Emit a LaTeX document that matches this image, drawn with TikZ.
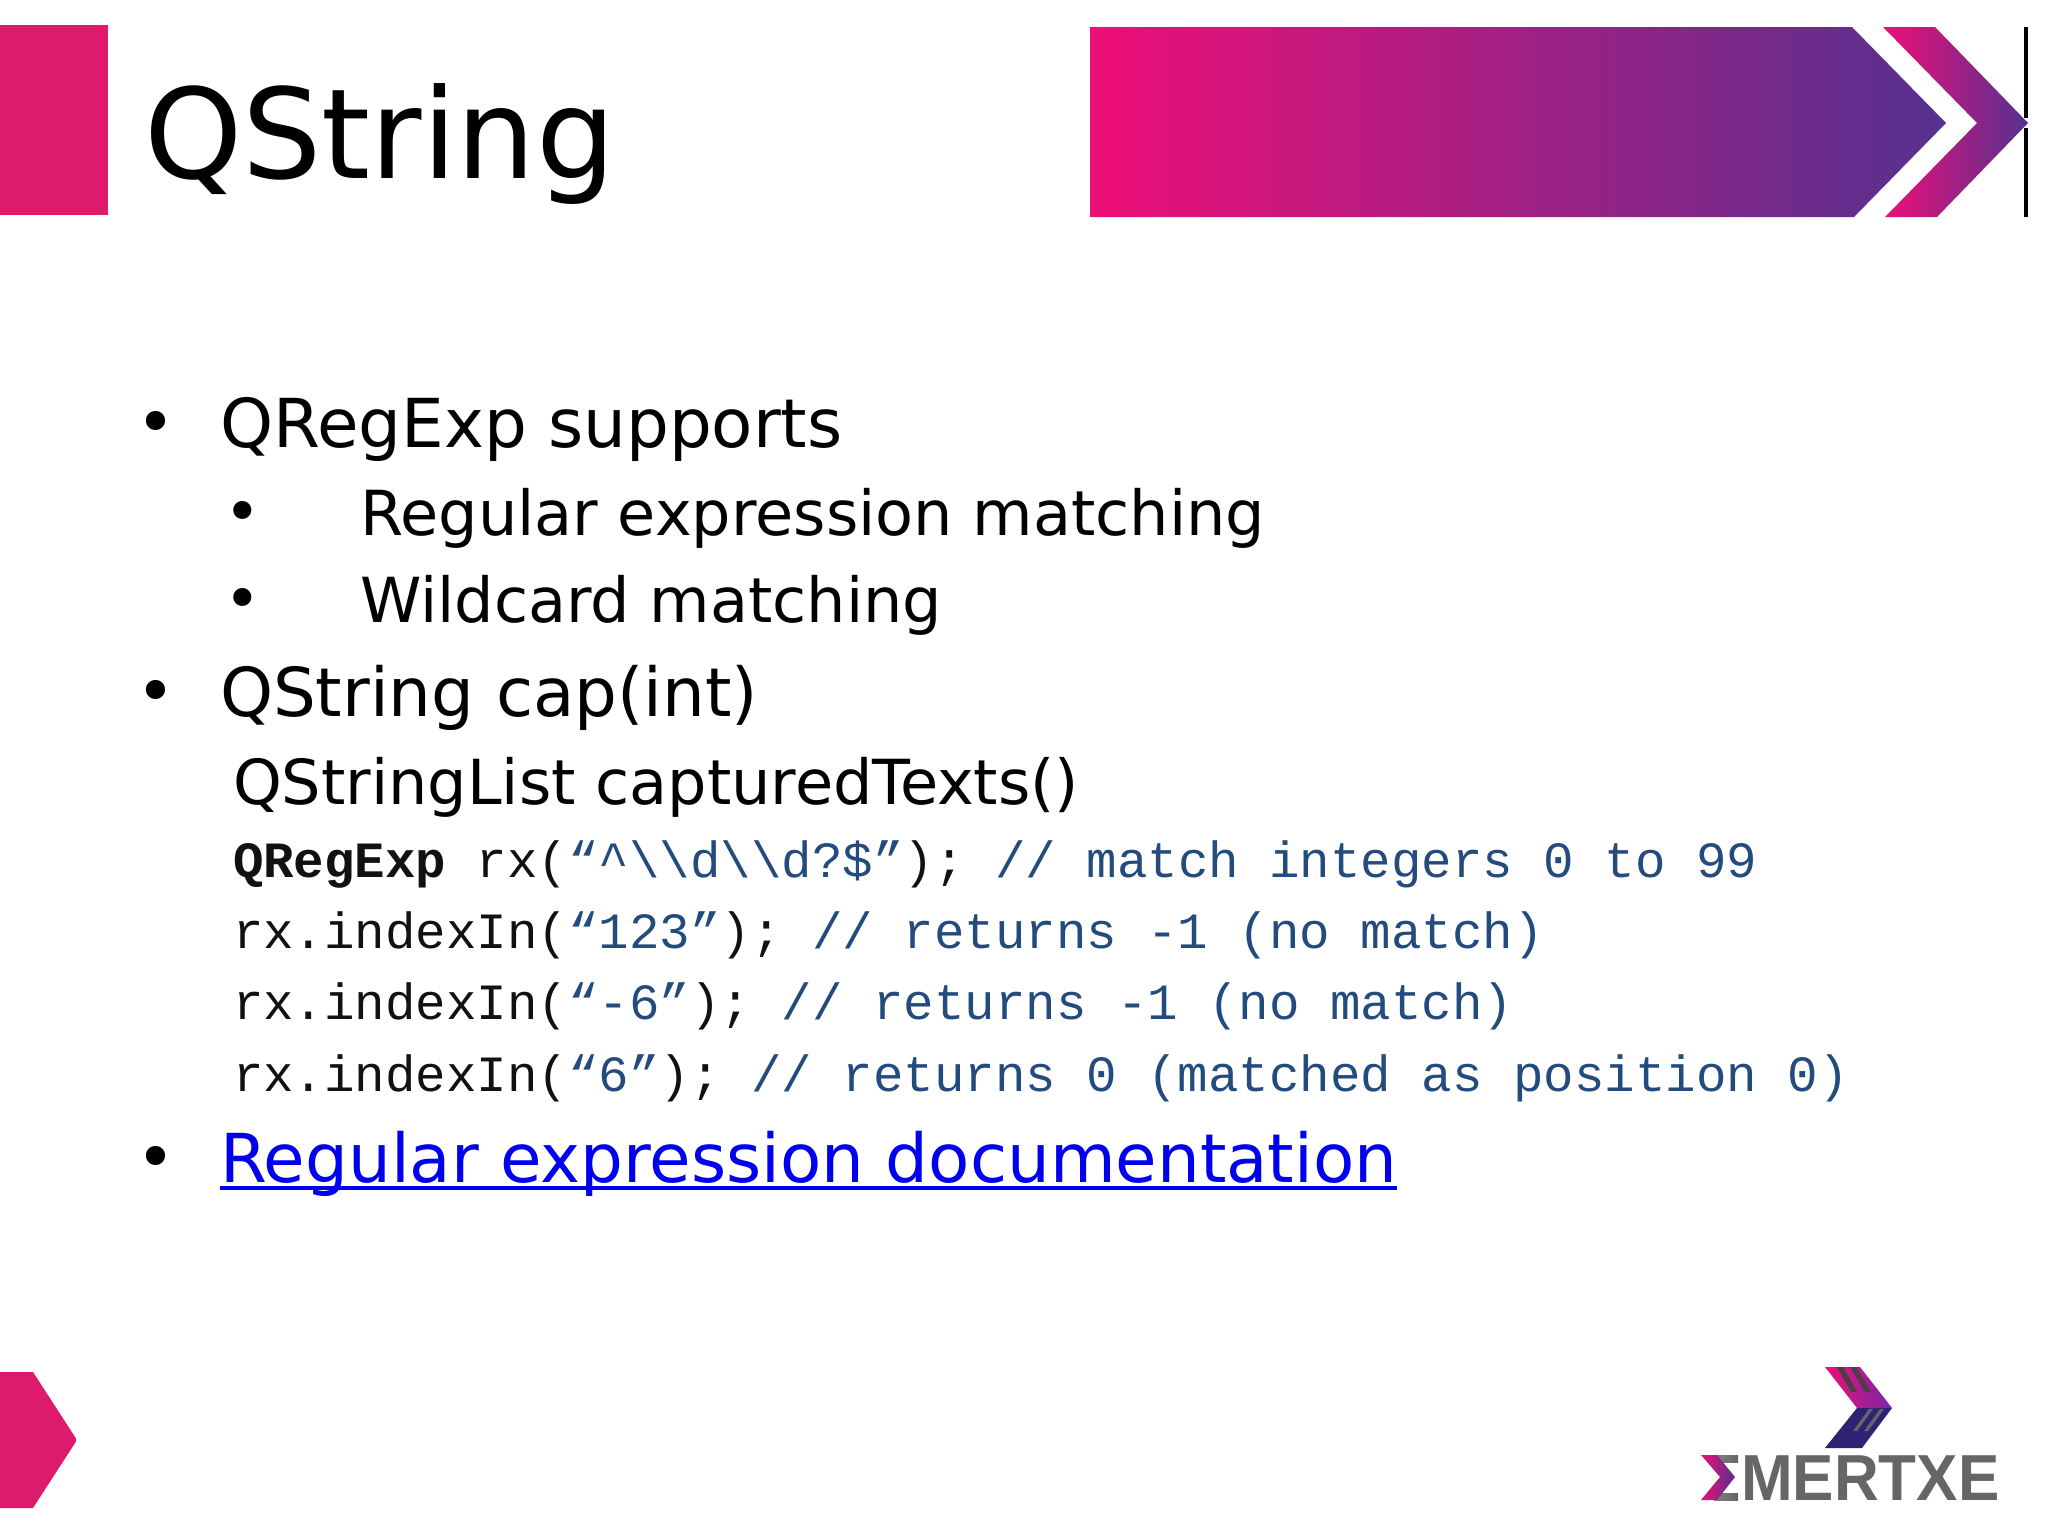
\documentclass[tikz,border=0pt]{standalone}
\usepackage{graphicx}
\usepackage{fontspec}
\setmainfont{DejaVu Sans}
\setmonofont{Liberation Mono}
\newfontfamily\logofont{Liberation Sans}
\definecolor{brandpink}{HTML}{DD1A6C}
\definecolor{gradpink}{HTML}{EE0F78}
\definecolor{gradpurple}{HTML}{55318F}
\definecolor{commentblue}{HTML}{234B7E}
\definecolor{codeblack}{HTML}{111111}
\definecolor{linkblue}{HTML}{0000EE}
\definecolor{logogray}{HTML}{666666}
\definecolor{logonavy}{HTML}{2F2274}
\newcommand{\cmt}[1]{\textcolor{commentblue}{#1}}
\newcommand{\ulink}[1]{\setbox0\hbox{#1}\rlap{\rule[-8pt]{\wd0}{4pt}}\box0}
\tikzset{
  txt/.style={anchor=base west,inner sep=0pt,outer sep=0pt},
  titletxt/.style={txt,font=\fontsize{125}{140}\selectfont,text=black},
  lvlone/.style={txt,font=\fontsize{67.5}{84}\selectfont,text=black},
  lvltwo/.style={txt,font=\fontsize{62.1}{76}\selectfont,text=black},
  bulone/.style={anchor=base,inner sep=0pt,outer sep=0pt,font=\fontsize{66}{84}\selectfont,text=black},
  bultwo/.style={anchor=base,inner sep=0pt,outer sep=0pt,font=\fontsize{62}{76}\selectfont,text=black},
  codetxt/.style={txt,font=\fontsize{50.8}{60}\selectfont\ttfamily,text=codeblack},
}
\begin{document}
\begin{tikzpicture}[x=1pt,y=-1pt]
\useasboundingbox (0,0) rectangle (2048,1537);
\fill[white] (0,0) rectangle (2048,1537);
% header shapes
\fill[brandpink] (0,25) rectangle (108,215);
\shade[left color=gradpink,right color=gradpurple] (1090,27) -- (1852,27) -- (1946,123) -- (1854,217) -- (1090,217) -- cycle;
\shade[left color=gradpink,right color=gradpurple] (1883,27) -- (1935,27) -- (2028,123) -- (1937,217) -- (1885,217) -- (1977,123) -- cycle;
\fill[black] (2024,27) rectangle (2028,118);
\fill[black] (2024,128) rectangle (2028,217);
% footer shape
\fill[brandpink] (-5,1372) -- (33,1372) [rounded corners=2pt] -- (77,1440) [sharp corners] -- (33,1508) -- (-5,1508) -- cycle;
% logo
\shade[left color=gradpink,right color=gradpurple!80!magenta] (1825,1367) -- (1860,1367) -- (1892,1408) -- (1857,1408) -- cycle;
\fill[logonavy] (1857,1408) -- (1892,1408) -- (1862,1448) -- (1825,1448) -- cycle;
\fill[black!80!magenta] (1837,1367) -- (1843,1367) -- (1857,1392) -- (1851,1392) -- cycle;
\fill[black!80!magenta] (1850,1367) -- (1856,1367) -- (1871,1392) -- (1865,1392) -- cycle;
\fill[logogray] (1869,1409) -- (1873,1409) -- (1857,1431) -- (1853,1431) -- cycle;
\fill[logogray] (1880,1409) -- (1884,1409) -- (1868,1431) -- (1864,1431) -- cycle;
\shade[left color=black!50,right color=logogray] (1714,1455) rectangle (1738,1462);
\shade[left color=black!50,right color=logogray] (1714,1493) rectangle (1738,1500);
\shade[left color=gradpink,right color=gradpurple] (1701,1455) -- (1717,1455) -- (1735,1477) -- (1717,1500) -- (1701,1500) -- (1720,1477) -- cycle;
\node[txt,text=logogray,font=\fontsize{62}{70}\selectfont\logofont\bfseries] (logoname) at (1741,1500) {\scalebox{1}[1.05]{MERTXE}};
% texts
\node[titletxt] (title) at (144,178.5) {QString};
\node[bulone] (b1) at (155.5,445.5) {•};
\node[lvlone] (t1) at (220,447.4) {QRegExp supports};
\node[bultwo] (b2) at (243,533.5) {•};
\node[lvltwo] (t2) at (360,535.4) {Regular expression matching};
\node[bultwo] (b3) at (243,620.5) {•};
\node[lvltwo] (t3) at (360,622.4) {Wildcard matching};
\node[bulone] (b4) at (155.5,714.5) {•};
\node[lvlone] (t4) at (220,716.4) {QString cap(int)};
\node[lvltwo] (t5) at (233,804.4) {QStringList capturedTexts()};
\node[codetxt] (c1) at (233,877) {\textbf{QRegExp} rx(\cmt{“\textasciicircum\textbackslash\textbackslash d\textbackslash\textbackslash d?\$”}); \cmt{// match integers 0 to 99}};
\node[codetxt] (c2) at (233,948.5) {rx.indexIn(\cmt{“123”}); \cmt{// returns -1 (no match)}};
\node[codetxt] (c3) at (233,1019.5) {rx.indexIn(\cmt{“-6”}); \cmt{// returns -1 (no match)}};
\node[codetxt] (c4) at (233,1091) {rx.indexIn(\cmt{“6”}); \cmt{// returns 0 (matched as position 0)}};
\node[bulone] (b5) at (155.5,1180.5) {•};
\node[lvlone,text=linkblue] (t6) at (220,1182.4) {\ulink{Regular expression documentation}};
\end{tikzpicture}
\end{document}
